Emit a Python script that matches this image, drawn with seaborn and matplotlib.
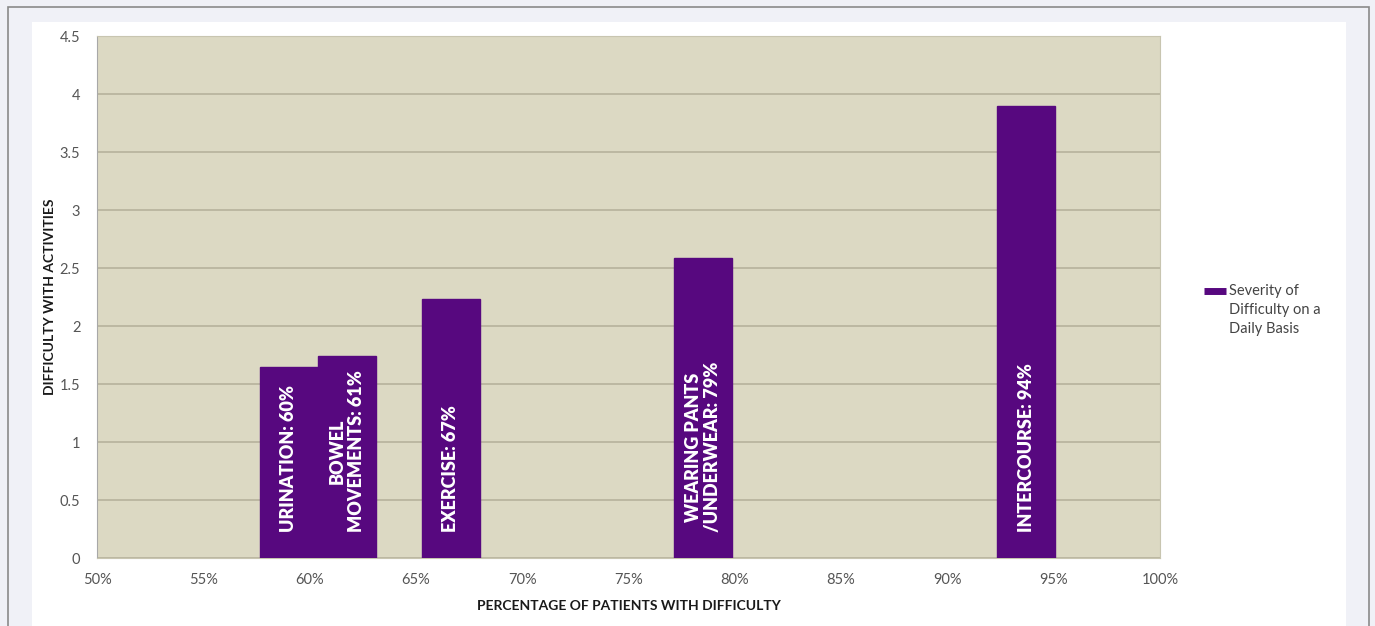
import matplotlib
matplotlib.use("Agg")
import matplotlib.pyplot as plt
from matplotlib.patches import Rectangle
from matplotlib.lines import Line2D
import seaborn as sns
import pandas as pd
import numpy as np

# values
activities = ["URINATION: 60%", "BOWEL\nMOVEMENTS: 61%", "EXERCISE: 67%",
              "WEARING PANTS\n/UNDERWEAR: 79%", "INTERCOURSE: 94%"]
pct_position = [59.03, 61.76, 66.63, 78.5, 93.7]   # bar centres on the % axis
severity = [1.65, 1.74, 2.23, 2.59, 3.90]
xticks = [50, 55, 60, 65, 70, 75, 80, 85, 90, 95, 100]
xtick_labels = ["50%", "55%", "60%", "65%", "70%", "75%", "80%", "85%", "90%", "95%", "100%"]
yticks = [0, 0.5, 1, 1.5, 2, 2.5, 3, 3.5, 4, 4.5]
ytick_labels = ["0", "0.5", "1", "1.5", "2", "2.5", "3", "3.5", "4", "4.5"]
legend_label = "Severity of\nDifficulty on a\nDaily Basis"

df = pd.DataFrame({"pos": pct_position, "sev": severity, "name": activities})

sns.set_style("white")
plt.rcParams["font.family"] = ["Lato", "DejaVu Sans"]

purple = "#57087f"
fig = plt.figure(figsize=(13.75, 6.26), dpi=100)
fig.patch.set_facecolor("#f0f1f7")
# outer frame and white chart panel
fig.add_artist(Rectangle((8/1375, -0.1), (1369-8)/1375, 1 - 7/626 + 0.1, transform=fig.transFigure,
                         facecolor="#f0f1f7", edgecolor="#8a8a8a", lw=1.2, zorder=0))
fig.add_artist(Rectangle((32/1375, -0.1), (1346-32)/1375, 1 - 22/626 + 0.1, transform=fig.transFigure,
                         facecolor="white", edgecolor="none", zorder=0))

ax = fig.add_axes([97/1375, 1 - 558/626, (1160-97)/1375, (558-36)/626])
ax.set_facecolor("#dcd9c3")

sns.barplot(data=df, x="pos", y="sev", native_scale=True, width=1.0,
            color=purple, saturation=1, ax=ax, zorder=3, errorbar=None)
for p in ax.patches:
    p.set_edgecolor(purple)

for xpos, name in zip(pct_position, activities):
    ax.text(xpos, 0.22, name, rotation=90, ha="center", va="bottom", multialignment="center",
            color="white", fontsize=13, fontweight="heavy", zorder=4)

ax.set_xlim(50, 100)
ax.set_ylim(0, 4.5)
ax.set_xticks(xticks)
ax.set_xticklabels(xtick_labels)
ax.set_yticks(yticks)
ax.set_yticklabels(ytick_labels)
ax.tick_params(axis="both", labelsize=10.5, colors="#555555", length=0, pad=11)
ax.tick_params(axis="y", length=4, color="#a0a0a0", direction="out", width=0.8, pad=8)
ax.yaxis.grid(True, color="#b9b59f", lw=1.3, zorder=1)
ax.set_axisbelow(True)
for s in ax.spines.values():
    s.set_color("#c8c5b0")
    s.set_linewidth(0.8)
ax.spines["left"].set_color("#a8a8a8")

ax.set_xlabel("PERCENTAGE OF PATIENTS WITH DIFFICULTY", fontsize=10, fontweight="bold",
              color="#1a1a1a", labelpad=9)
ax.set_ylabel("DIFFICULTY WITH ACTIVITIES", fontsize=10, fontweight="bold",
              color="#1a1a1a", labelpad=3)

# legend drawn by hand so the key sits beside the first line
fig.add_artist(Line2D([1204/1375, 1226/1375], [1 - 291/626, 1 - 291/626],
                      transform=fig.transFigure, color=purple, lw=5, solid_capstyle="butt"))
fig.text(1229/1375, 1 - 284/626, legend_label, ha="left", va="top", fontsize=10.5,
         color="#444444", linespacing=1.45)

fig.savefig("out.png", dpi=100, facecolor=fig.get_facecolor())
